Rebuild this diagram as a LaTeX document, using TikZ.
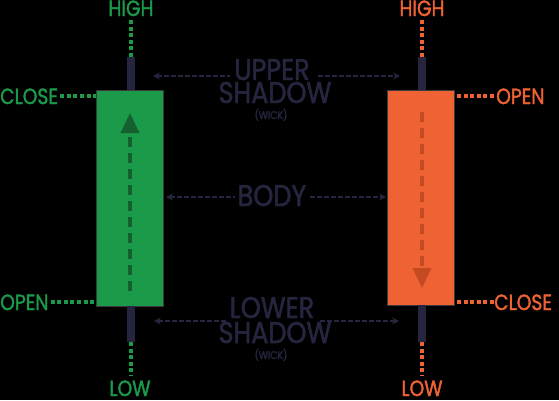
\documentclass[tikz,border=0pt]{standalone}
\usepackage{fontspec}
\setmainfont{Poppins}[FakeStretch=0.85, FakeBold=1.6]
\usetikzlibrary{arrows.meta}
\definecolor{cgreen}{HTML}{1B9A4A}
\definecolor{dgreen}{HTML}{14602F}
\definecolor{corange}{HTML}{EE6234}
\definecolor{dorange}{HTML}{C44A22}
\definecolor{navy}{HTML}{25253F}
\definecolor{rimgrey}{HTML}{3A3A3A}
\tikzset{
  candlebody/.style={draw=rimgrey, line width=1pt, minimum width=67pt, inner sep=0pt, outer sep=0pt},
  wickbar/.style={fill=navy, minimum width=8pt, inner sep=0pt, outer sep=0pt},
  lbl/.style={font=\fontsize{22}{22}\selectfont, inner sep=0pt},
  maintext/.style={font=\fontsize{30}{30}\selectfont, text=navy, inner sep=0pt},
  smalltext/.style={font=\fontsize{11}{11}\selectfont, text=navy, inner sep=0pt},
  dotline/.style={line width=4pt, dash pattern=on 4pt off 2.6pt},
  navytip/.style={},
  navyarrow/.style={navy, line width=2pt, dash pattern=on 5pt off 2pt},
  innerarrow/.style={line width=3.5pt, dash pattern=on 10pt off 6pt, -{Triangle[length=20pt,width=18pt]}}
}
\begin{document}
\begin{tikzpicture}[x=1pt,y=-1pt]
\fill[black] (0,0) rectangle (559,400);
\useasboundingbox (0,0) rectangle (559,400);

% ---------- green candle ----------
\node[candlebody, fill=cgreen, minimum height=216pt] (gbody) at (129.5,198) {};
\node[wickbar, minimum height=33pt, anchor=south] (gwu) at (130.5,90) {};
\node[wickbar, minimum height=36pt, anchor=north] (gwl) at (130.5,306) {};
\coordinate (gas) at (130,291);
\coordinate (gae) at (130,113);
\draw[innerarrow, dgreen] (gas) -- (gae);

\node[lbl, text=cgreen, anchor=base] (ghigh) at (131,16) {HIGH};
\node[lbl, text=cgreen, anchor=base] (glow) at (130,396) {LOW};
\node[lbl, text=cgreen, anchor=base west] (gclose) at (0,104) {CLOSE};
\node[lbl, text=cgreen, anchor=base west] (gopen) at (0,310) {OPEN};
\draw[dotline, cgreen] (gwu.north) -- (gwu.north |- 0,18);
\draw[dotline, cgreen] (gwl.south) -- (gwl.south |- 0,376);
\draw[dotline, cgreen] (gclose.east |- 0,96) ++(2,0) -- (gbody.west |- 0,96);
\draw[dotline, cgreen] (gopen.east |- 0,302) ++(2,0) -- (gbody.west |- 0,302);

% ---------- orange candle ----------
\node[candlebody, fill=corange, minimum height=215pt] (obody) at (420.5,197.5) {};
\node[wickbar, minimum height=33pt, anchor=south] (owu) at (422,90) {};
\node[wickbar, minimum height=37pt, anchor=north] (owl) at (422,305) {};
\coordinate (oas) at (422,112);
\coordinate (oae) at (422,288);
\draw[innerarrow, dorange] (oas) -- (oae);

\node[lbl, text=corange, anchor=base] (ohigh) at (422,16) {HIGH};
\node[lbl, text=corange, anchor=base] (olow) at (422,396) {LOW};
\node[lbl, text=corange, anchor=base west] (oopen) at (496,104) {OPEN};
\node[lbl, text=corange, anchor=base west] (oclose) at (494,310) {CLOSE};
\draw[dotline, corange] (owu.north) -- (owu.north |- 0,18);
\draw[dotline, corange] (owl.south) -- (owl.south |- 0,376);
\draw[dotline, corange] (obody.east |- 0,96) ++(3,0) -- (oopen.west |- 0,96);
\draw[dotline, corange] (obody.east |- 0,302) ++(3,0) -- (oclose.west |- 0,302);

% ---------- middle labels ----------
\node[maintext, anchor=base] (upper) at (272,80) {UPPER};
\node[maintext, anchor=base] (ushadow) at (275,103) {SHADOW};
\node[smalltext, anchor=base] (uwick) at (271,119) {(WICK)};
\coordinate (ual) at (153,76);
\coordinate (uar) at (400,76);
\coordinate (uml) at (230,76);
\coordinate (umr) at (318,76);
\draw[navyarrow, {Stealth[length=7pt,width=7pt]}-] (ual) -- (uml);
\draw[navyarrow, -{Stealth[length=7pt,width=7pt]}] (umr) -- (uar);

\node[maintext, anchor=base] (body) at (272,206) {BODY};
\coordinate (bal) at (166,197);
\coordinate (bar) at (386,197);
\draw[navyarrow, {Stealth[length=7pt,width=7pt]}-] (bal) -- ([xshift=-3pt]body.west |- bal);
\draw[navyarrow, -{Stealth[length=7pt,width=7pt]}] ([xshift=3pt]body.east |- bar) -- (bar);

\node[maintext, anchor=base] (lower) at (272,318) {LOWER};
\node[maintext, anchor=base] (lshadow) at (275,343) {SHADOW};
\node[smalltext, anchor=base] (lwick) at (271,359) {(WICK)};
\coordinate (lal) at (154,321);
\coordinate (lar) at (399,321);
\coordinate (lml) at (226,321);
\coordinate (lmr) at (320,321);
\draw[navyarrow, {Stealth[length=7pt,width=7pt]}-] (lal) -- (lml);
\draw[navyarrow, -{Stealth[length=7pt,width=7pt]}] (lmr) -- (lar);
\end{tikzpicture}
\end{document}
